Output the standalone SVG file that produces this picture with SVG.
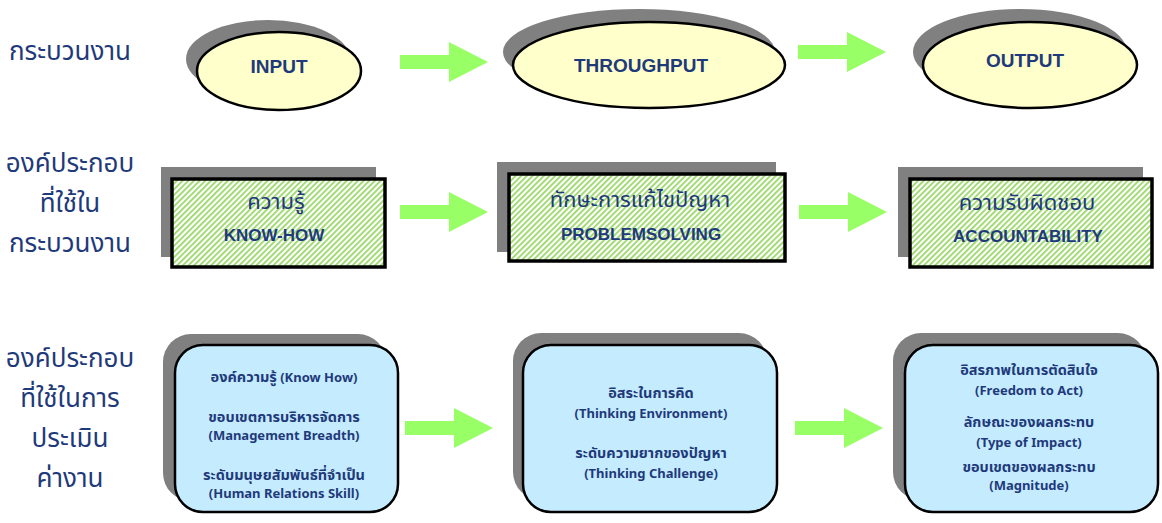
<svg xmlns="http://www.w3.org/2000/svg" width="1162" height="523" viewBox="0 0 1162 523">
<defs>
<pattern id="hatch" width="4" height="4" patternUnits="userSpaceOnUse" patternTransform="rotate(45)">
<rect width="4" height="4" fill="#ffffff"/>
<rect x="0" y="0" width="1.8" height="4" fill="#9ad86a"/>
</pattern>
<path id="arr" d="M-88,-7 L-39,-7 L-39,-20 L0,0 L-39,20 L-39,7 L-88,7 Z" fill="#99ff66"/>
<style>
.lbl{font-family:"Noto Sans","Noto Sans Thai","Liberation Sans",sans-serif;font-size:26px;fill:#1f3a7a;text-anchor:middle}
.el{font-family:"Liberation Sans",Arial,sans-serif;font-weight:bold;font-size:19px;fill:#1f3a7a;text-anchor:middle}
.rt{font-family:"Noto Sans","Noto Sans Thai","Liberation Sans",sans-serif;font-size:22px;fill:#1f3a7a;text-anchor:middle}
.re{font-family:"Liberation Sans",Arial,sans-serif;font-weight:bold;font-size:17px;fill:#1f3a7a;text-anchor:middle}
.bt{font-family:"Noto Sans","Noto Sans Thai","Liberation Sans",sans-serif;font-weight:bold;font-size:13px;fill:#1f3a7a;text-anchor:middle}
.th{font-size:14.5px}
.shadow{fill:#808080}
.ell{fill:#ffffcc;stroke:#000;stroke-width:2.5}
.box{fill:url(#hatch);stroke:#000;stroke-width:3.5}
.rbox{fill:#c5ebff;stroke:#000;stroke-width:2.5}
</style>
</defs>
<rect width="1162" height="523" fill="#ffffff"/>

<g id="labels">
<text class="lbl" x="70" y="60">กระบวนงาน</text>
<text class="lbl" x="70" y="172">องค์ประกอบ</text>
<text class="lbl" x="70" y="212">ที่ใช้ใน</text>
<text class="lbl" x="70" y="252">กระบวนงาน</text>
<text class="lbl" x="70" y="367">องค์ประกอบ</text>
<text class="lbl" x="70" y="407">ที่ใช้ในการ</text>
<text class="lbl" x="70" y="447">ประเมิน</text>
<text class="lbl" x="70" y="487">ค่างาน</text>
</g>

<g id="connectors">
<use href="#arr" x="488" y="62"/>
<use href="#arr" x="886" y="52"/>
<use href="#arr" x="488" y="212"/>
<use href="#arr" x="887" y="212"/>
<use href="#arr" x="493" y="428"/>
<use href="#arr" x="883" y="428"/>
</g>

<g id="input">
<ellipse class="shadow" cx="268" cy="59" rx="82" ry="39"/>
<ellipse class="ell" cx="279" cy="71" rx="82" ry="39"/>
<text class="el" x="279" y="73">INPUT</text>
</g>
<g id="throughput">
<ellipse class="shadow" cx="639" cy="52" rx="136" ry="43"/>
<ellipse class="ell" cx="649" cy="65" rx="136" ry="43"/>
<text class="el" x="641" y="72">THROUGHPUT</text>
</g>
<g id="output">
<ellipse class="shadow" cx="1020" cy="52" rx="107" ry="43"/>
<ellipse class="ell" cx="1030" cy="65" rx="107" ry="43"/>
<text class="el" x="1025" y="67">OUTPUT</text>
</g>

<g id="knowhow">
<rect class="shadow" x="161" y="167" width="215" height="90"/>
<rect class="box" x="172" y="179" width="213" height="88"/>
<text class="rt" x="276" y="209">ความรู้</text>
<text class="re" x="274" y="241">KNOW-HOW</text>
</g>
<g id="problemsolving">
<rect class="shadow" x="497" y="162" width="279" height="90"/>
<rect class="box" x="509" y="174" width="276" height="87"/>
<text class="rt" x="640" y="207">ทักษะการแก้ไขปัญหา</text>
<text class="re" x="641" y="240">PROBLEMSOLVING</text>
</g>
<g id="accountability">
<rect class="shadow" x="898" y="167" width="245" height="90"/>
<rect class="box" x="910" y="179" width="242" height="88"/>
<text class="rt" x="1027" y="210">ความรับผิดชอบ</text>
<text class="re" x="1028" y="242">ACCOUNTABILITY</text>
</g>

<g id="eval1">
<rect class="shadow" x="163" y="334" width="223" height="167" rx="28"/>
<rect class="rbox" x="175" y="345" width="223" height="167" rx="28"/>
<text class="bt" x="284" y="382"><tspan class="th">องค์ความรู้</tspan> (Know How)</text>
<text class="bt th" x="284" y="422">ขอบเขตการบริหารจัดการ</text>
<text class="bt" x="284" y="440">(Management Breadth)</text>
<text class="bt th" x="284" y="480">ระดับมนุษยสัมพันธ์ที่จำเป็น</text>
<text class="bt" x="284" y="498">(Human Relations Skill)</text>
</g>
<g id="eval2">
<rect class="shadow" x="513" y="333" width="254" height="167" rx="28"/>
<rect class="rbox" x="523" y="345" width="254" height="167" rx="28"/>
<text class="bt th" x="651" y="398">อิสระในการคิด</text>
<text class="bt" x="651" y="418">(Thinking Environment)</text>
<text class="bt th" x="651" y="458">ระดับความยากของปัญหา</text>
<text class="bt" x="651" y="478">(Thinking Challenge)</text>
</g>
<g id="eval3">
<rect class="shadow" x="893" y="333" width="253" height="167" rx="28"/>
<rect class="rbox" x="905" y="345" width="253" height="167" rx="28"/>
<text class="bt th" x="1029" y="375">อิสรภาพในการตัดสินใจ</text>
<text class="bt" x="1029" y="395">(Freedom to Act)</text>
<text class="bt th" x="1029" y="427">ลักษณะของผลกระทบ</text>
<text class="bt" x="1029" y="447">(Type of Impact)</text>
<text class="bt th" x="1029" y="472">ขอบเขตของผลกระทบ</text>
<text class="bt" x="1029" y="490">(Magnitude)</text>
</g>
</svg>
